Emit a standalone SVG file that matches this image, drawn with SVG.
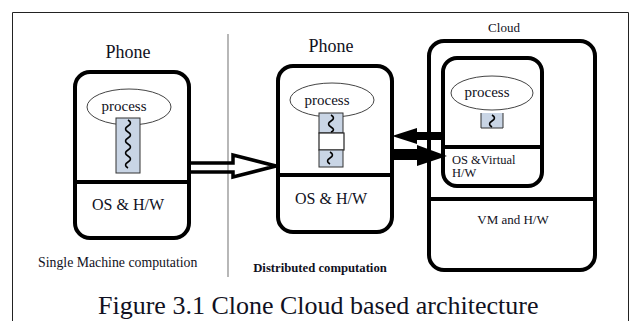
<svg xmlns="http://www.w3.org/2000/svg" width="633" height="321" viewBox="0 0 633 321">
<style>
text{font-family:"Liberation Serif","DejaVu Serif",serif;fill:#111122}
.box{fill:none;stroke:#000;stroke-width:4}
.div{stroke:#000;stroke-width:4}
.ell{fill:#fff;stroke:#444;stroke-width:1}
.proc{fill:#c9d5e5;stroke:#333;stroke-width:1}
.wave{fill:none;stroke:#000;stroke-width:1.6}
</style>
<rect width="633" height="321" fill="#fff"/>
<path d="M12.5 321 V12.5 H628.5 V321" fill="none" stroke="#222" stroke-width="1"/>
<line x1="228" y1="34" x2="228" y2="277" stroke="#888" stroke-width="1.2"/>

<g id="phone1">
<text x="128" y="58" font-size="18" text-anchor="middle">Phone</text>
<rect class="box" x="75" y="72" width="114" height="166" rx="15"/>
<line class="div" x1="75" y1="182" x2="189" y2="182"/>
<ellipse class="ell" cx="129" cy="107" rx="42" ry="18"/>
<text x="124" y="111" font-size="15" text-anchor="middle">process</text>
<rect class="proc" x="116" y="118" width="24" height="55"/>
<path class="wave" d="M128 120 q5 3 0 6 q-5 3 0 6 q5 3 0 6 q-5 3 0 6 q5 3 0 6 q-5 3 0 6 q5 3 0 6 q-5 3 0 6"/>
<text x="128" y="210" font-size="16" text-anchor="middle">OS &amp; H/W</text>
<text x="38" y="267" font-size="13.8">Single Machine computation</text>
</g>

<g id="phone2">
<text x="331" y="52" font-size="18" text-anchor="middle">Phone</text>
<rect class="box" x="278" y="66" width="114" height="166" rx="15"/>
<line class="div" x1="278" y1="175" x2="392" y2="175"/>
<ellipse class="ell" cx="332" cy="100" rx="42" ry="17"/>
<text x="327" y="105" font-size="15" text-anchor="middle">process</text>
<rect class="proc" x="319" y="113" width="24" height="20"/>
<rect x="319" y="133" width="25" height="17" fill="#fff" stroke="#222" stroke-width="1.2"/>
<rect class="proc" x="319" y="150" width="24" height="17"/>
<path class="wave" d="M331 115 q5 3 0 6 q-5 3 0 6 q5 3 0 5"/>
<path class="wave" d="M330 152 q5 3 0 6 q-5 3 0 6"/>
<text x="331" y="204" font-size="16" text-anchor="middle">OS &amp; H/W</text>
<text x="320" y="272" font-size="12.7" font-weight="bold" text-anchor="middle">Distributed computation</text>
</g>

<g id="cloud">
<text x="504" y="32" font-size="13" text-anchor="middle">Cloud</text>
<rect class="box" x="429" y="41" width="166" height="229" rx="15"/>
<line class="div" x1="429" y1="199" x2="595" y2="199"/>
<text x="513" y="224" font-size="13" text-anchor="middle">VM and H/W</text>
</g>

<g id="clone">
<rect class="box" x="443" y="58" width="99" height="128" rx="14"/>
<line class="div" x1="443" y1="147" x2="542" y2="147"/>
<ellipse class="ell" cx="492" cy="93" rx="41" ry="17"/>
<text x="487" y="97" font-size="15" text-anchor="middle">process</text>
<path class="proc" d="M481 113 V128 H503 V113"/>
<path class="wave" d="M492 115 q5 3 0 6 q-5 3 0 6"/>
<text x="452" y="164" font-size="12.5">OS &amp;Virtual</text>
<text x="452" y="177" font-size="12.5">H/W</text>
</g>

<g id="connectors">
<path d="M189 163 H233 V155 L276 166 L233 177 V172 H189" fill="none" stroke="#000" stroke-width="3.5" stroke-linejoin="miter"/>
<path d="M443 132 H417 V128 L392 136 L417 144 V140 H443 Z" fill="#000"/>
<path d="M392 149 H417 V145 L447 156 L417 166 V160 H392 Z" fill="#000"/>
</g>

<text x="98" y="314" font-size="26">Figure 3.1 Clone Cloud based architecture</text>
</svg>
